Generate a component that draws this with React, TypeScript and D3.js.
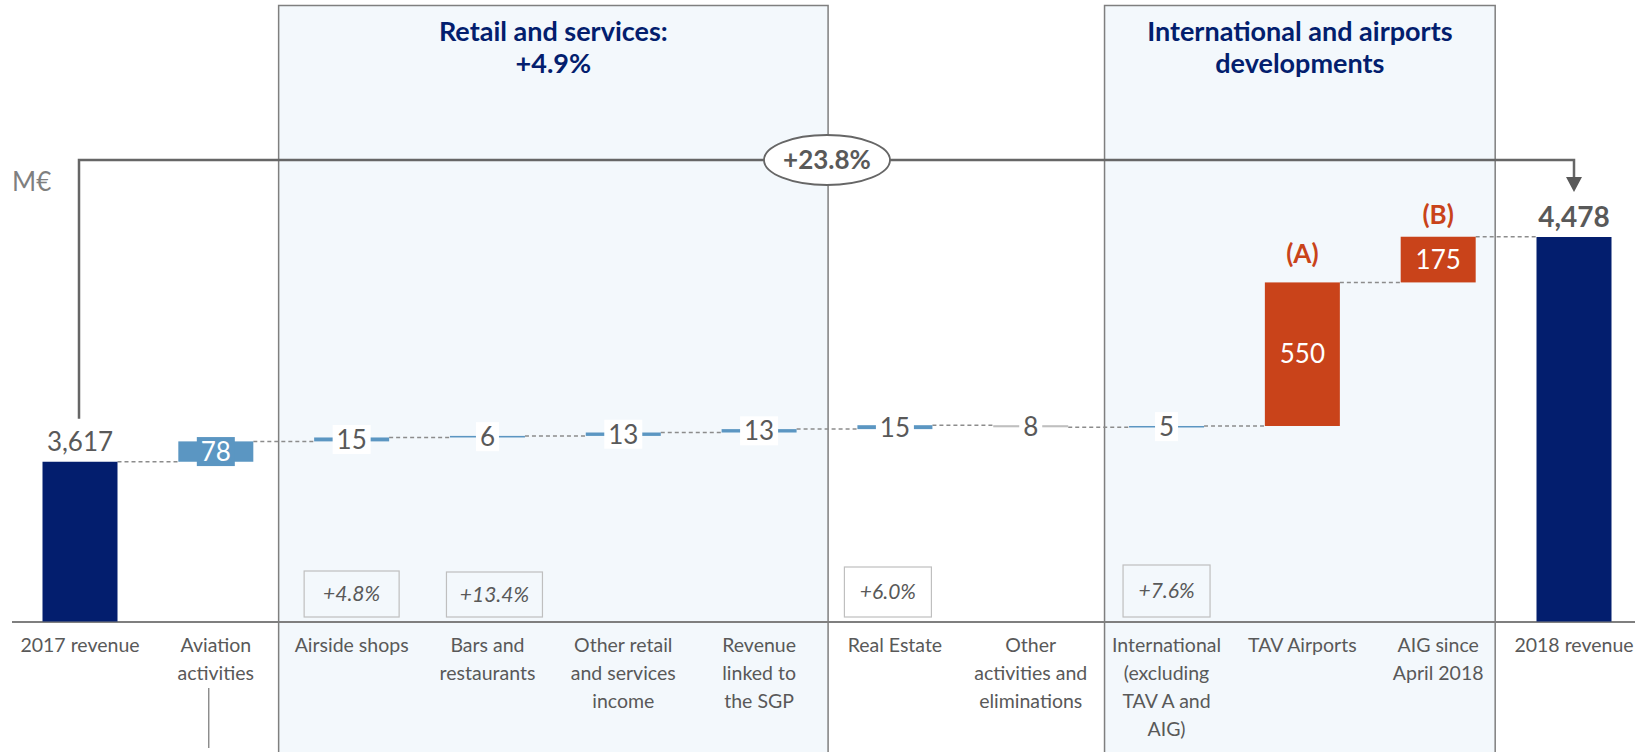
import React from "react";
import * as d3 from "d3";

// ---------- data ----------
const categoryLines: string[][] = [
  ["2017 revenue"],
  ["Aviation", "activities"],
  ["Airside shops"],
  ["Bars and", "restaurants"],
  ["Other retail", "and services", "income"],
  ["Revenue", "linked to", "the SGP"],
  ["Real Estate"],
  ["Other", "activities and", "eliminations"],
  ["International", "(excluding", "TAV A and", "AIG)"],
  ["TAV Airports"],
  ["AIG since", "April 2018"],
  ["2018 revenue"],
];
const values = [3617, 78, 15, 6, 13, 13, 15, -8, 5, 550, 175, 4478];
const kinds = ["total", "core", "core", "core", "core", "core", "core", "core", "core", "dev", "dev", "total"];
const valueLabels = ["3,617", "78", "15", "6", "13", "13", "15", "8", "5", "550", "175", "4,478"];
const annotations = [
  { cat: 9, text: "(A)" },
  { cat: 10, text: "(B)" },
];
const growthBoxes = [
  { cat: 2, text: "+4.8%" },
  { cat: 3, text: "+13.4%" },
  { cat: 6, text: "+6.0%" },
  { cat: 8, text: "+7.6%" },
];
const groups = [
  { first: 2, last: 5, title: ["Retail and services:", "+4.9%"] },
  { first: 8, last: 10, title: ["International and airports", "developments"] },
];
const totalGrowth = "+23.8%";
const unitLabel = "M€";

// ---------- layout / style ----------
const W = 1635;
const H = 752;
const FONT = "Lato, 'Open Sans', sans-serif";
const NAVY = "#031E6E";
const BLUE = "#5B96C2";
const GREY_NEG = "#BFBFBF";
const ORANGE = "#C9431A";
const TEXT = "#595959";
const LINE = "#7F7F7F";
const GROUP_FILL = "#F3F8FC";
const BAR_W = 75;
const BASE_Y = 621.5;
const ARROW_Y = 160;
const GROUP_PAD = [
  [73, 69],
  [62, 57],
];
const BOX_LAYOUT = [
  { dx: 0, w: 95, top: 571 },
  { dx: 7, w: 96, top: 572 },
  { dx: -7, w: 87, top: 567 },
  { dx: 0, w: 87, top: 565 },
];

export default function App() {
  const idx = values.map((_, i) => i);
  const x = d3.scalePoint<number>().domain(idx).range([80, 1574]);
  const y = d3.scaleLinear().domain([3005, 4478]).range([BASE_Y, 237]);

  // waterfall segments
  let running = 0;
  const segs = values.map((v, i) => {
    if (kinds[i] === "total") {
      running = v;
      return { i, lo: y.domain()[0], hi: v, end: v };
    }
    const start = running;
    running = start + v;
    return { i, lo: Math.min(start, running), hi: Math.max(start, running), end: running };
  });

  const colorOf = (i: number) => {
    if (kinds[i] === "total") return NAVY;
    if (kinds[i] === "dev") return ORANGE;
    return values[i] < 0 ? GREY_NEG : BLUE;
  };

  const xi = (i: number) => x(i) as number;
  const first = 0;
  const last = values.length - 1;
  const midX = (xi(first) + xi(last)) / 2;

  return (
    <svg
      width={W}
      height={H}
      style={{ position: "absolute", left: 0, top: 0, background: "#fff" }}
      fontFamily={FONT}
    >
      {/* group panels */}
      {groups.map((g, gi) => {
        const x0 = xi(g.first) - GROUP_PAD[gi][0];
        const x1 = xi(g.last) + GROUP_PAD[gi][1];
        return (
          <g key={"g" + gi}>
            <rect x={x0} y={5.5} width={x1 - x0} height={H + 20} fill={GROUP_FILL} stroke={LINE} strokeWidth={1.5} />
            {g.title.map((t, li) => (
              <text
                key={li}
                x={(x0 + x1) / 2}
                y={41 + li * 32}
                textAnchor="middle"
                fontSize={27}
                fontWeight={700}
                fill={NAVY}
              >
                {t}
              </text>
            ))}
          </g>
        );
      })}

      {/* axis baseline */}
      <line x1={12} x2={W} y1={BASE_Y + 0.5} y2={BASE_Y + 0.5} stroke={LINE} strokeWidth={2} />

      {/* growth boxes */}
      {growthBoxes.map((b, k) => {
        const L = BOX_LAYOUT[k];
        const cx = xi(b.cat) + L.dx;
        const bottom = 617;
        return (
          <g key={"b" + k}>
            <rect x={cx - L.w / 2} y={L.top} width={L.w} height={bottom - L.top} fill="none" stroke="#BFBFBF" strokeWidth={1.2} />
            <text x={cx} y={(L.top + bottom) / 2} dy="0.35em" textAnchor="middle" fontSize={21} fontStyle="italic" fill={TEXT}>
              {b.text}
            </text>
          </g>
        );
      })}

      {/* connectors */}
      {segs.slice(0, -1).map((s, k) => {
        const level = s.end;
        return (
          <line
            key={"c" + k}
            x1={xi(k) + BAR_W / 2}
            x2={xi(k + 1) - BAR_W / 2}
            y1={y(level)}
            y2={y(level)}
            stroke="#8C8C8C"
            strokeWidth={1.5}
            strokeDasharray="4,3"
          />
        );
      })}

      {/* bars */}
      {segs.map((s) => (
        <rect
          key={"r" + s.i}
          x={xi(s.i) - BAR_W / 2}
          y={y(s.hi)}
          width={BAR_W}
          height={Math.max(1.5, y(s.lo) - y(s.hi))}
          fill={colorOf(s.i)}
        />
      ))}

      {/* value labels */}
      {segs.map((s) => {
        const i = s.i;
        const cx = xi(i);
        const top = y(s.hi);
        const h = y(s.lo) - y(s.hi);
        const lab = valueLabels[i];
        if (kinds[i] === "total") {
          const bold = i === last;
          return (
            <text key={"l" + i} x={cx} y={top - 20} dy="0.35em" textAnchor="middle" fontSize={bold ? 28 : 26} fontWeight={bold ? 700 : 400} fill={TEXT}>
              {lab}
            </text>
          );
        }
        const cy = (y(s.lo) + y(s.hi)) / 2;
        if (h > 30) {
          return (
            <text key={"l" + i} x={cx} y={cy} dy="0.35em" textAnchor="middle" fontSize={26} fill="#fff">
              {lab}
            </text>
          );
        }
        const bw = lab.length * 15 + 8;
        const coloured = Math.abs(values[i]) >= 50;
        return (
          <g key={"l" + i}>
            <rect x={cx - bw / 2} y={cy - 14.5} width={bw} height={29} fill={coloured ? colorOf(i) : "#fff"} />
            <text x={cx} y={cy} dy="0.36em" textAnchor="middle" fontSize={26} fill={coloured ? "#fff" : TEXT}>
              {lab}
            </text>
          </g>
        );
      })}

      {/* (A) (B) annotations */}
      {annotations.map((a, k) => {
        const s = segs[a.cat];
        return (
          <text key={"a" + k} x={xi(a.cat)} y={y(s.hi) - (k === 0 ? 29 : 22)} dy="0.35em" textAnchor="middle" fontSize={26} fontWeight={700} fill={ORANGE}>
            {a.text}
          </text>
        );
      })}

      {/* total growth arrow */}
      <path
        d={`M${xi(first) - 1},${y(values[first]) - 43} V${ARROW_Y} H${xi(last)} V${y(values[last]) - 58}`}
        fill="none"
        stroke="#666"
        strokeWidth={2.5}
      />
      <path
        d={`M${xi(last) - 8},${y(values[last]) - 60} L${xi(last) + 8},${y(values[last]) - 60} L${xi(last)},${y(values[last]) - 45} Z`}
        fill="#595959"
      />
      <ellipse cx={midX} cy={ARROW_Y} rx={63} ry={25} fill="#fff" stroke="#666" strokeWidth={1.8} />
      <text x={midX} y={ARROW_Y} dy="0.36em" textAnchor="middle" fontSize={26} fontWeight={700} fill={TEXT}>
        {totalGrowth}
      </text>

      {/* unit */}
      <text x={12} y={190.5} fontSize={26} fill={LINE}>
        {unitLabel}
      </text>

      {/* category labels */}
      {categoryLines.map((lines, i) => (
        <text key={"t" + i} textAnchor="middle" fontSize={19.5} fill={TEXT}>
          {lines.map((ln, li) => (
            <tspan key={li} x={xi(i)} y={651.5 + li * 28.3}>
              {ln}
            </tspan>
          ))}
        </text>
      ))}

      {/* small leader line below Aviation activities */}
      <line x1={xi(1) - 7} x2={xi(1) - 7} y1={688} y2={748} stroke={TEXT} strokeWidth={1} />
    </svg>
  );
}
